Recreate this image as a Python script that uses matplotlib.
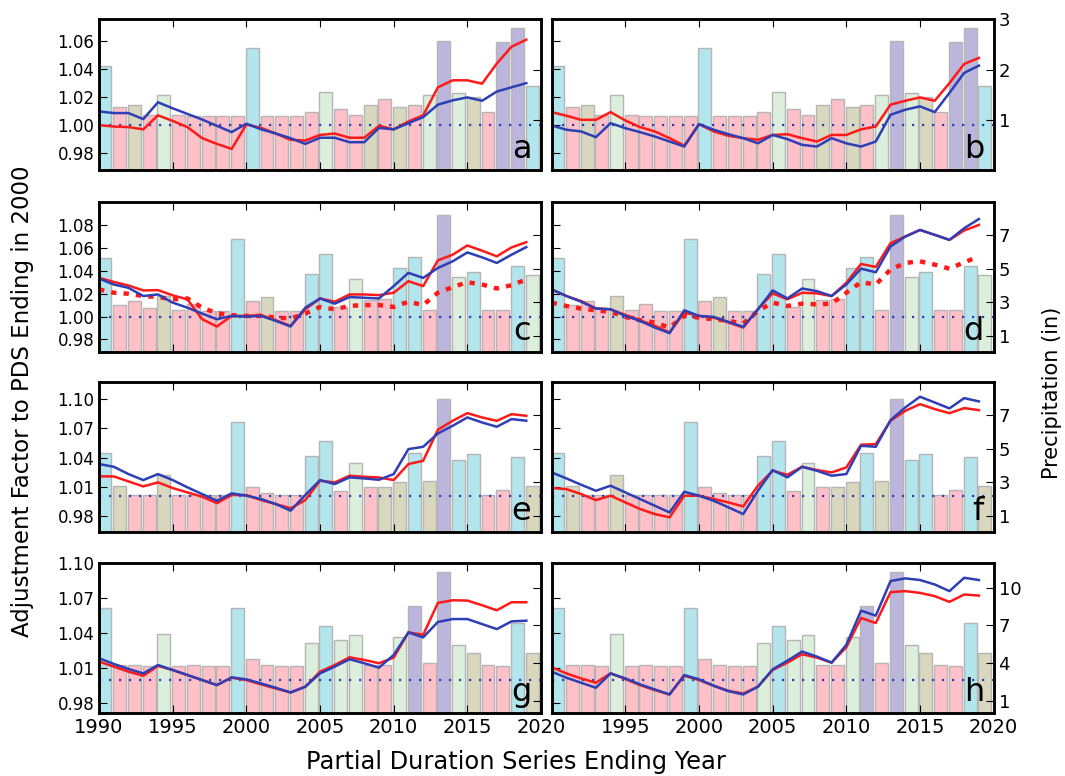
import numpy as np
import matplotlib.pyplot as plt

years = list(range(1990, 2020))

# bar colour codes: c=cyan, p=pink, t=tan, g=green, v=violet
bar_colors = {'c': '#b3e5ec', 'p': '#ffc0c8', 't': '#d9d8be', 'g': '#dcefdc', 'v': '#bcb5dc'}

# precipitation (in), one series per row
precip_r1 = [2.08, 1.25, 1.30, 1.10, 1.50, 1.10, 1.07, 1.07, 1.07, 1.07, 2.43, 1.07, 1.07, 1.07, 1.15,
             1.56, 1.22, 1.10, 1.30, 1.42, 1.25, 1.30, 1.50, 2.57, 1.53, 1.45, 1.15, 2.55, 2.83, 1.68]
cats_r1 = "cptpgpppppcppppgpptptpgvgtpvvc"
precip_r2 = [5.64, 2.81, 3.07, 2.63, 3.37, 2.53, 2.87, 2.48, 2.48, 6.77, 3.07, 3.33, 2.48, 2.48, 4.71,
             5.90, 2.71, 4.36, 3.10, 3.17, 5.05, 5.72, 2.55, 8.20, 4.50, 4.80, 2.55, 2.55, 5.13, 4.60]
cats_r2 = "cppptppppcptppccpgppccpvgcppcg"
precip_r3 = [4.77, 2.78, 2.25, 2.25, 3.42, 2.25, 2.25, 2.25, 2.25, 6.60, 2.72, 2.35, 2.25, 2.25, 4.59,
             5.47, 2.45, 4.17, 2.72, 2.72, 2.98, 4.77, 3.04, 7.95, 4.33, 4.67, 2.25, 2.52, 4.51, 2.78]
cats_r3 = "ctpptppppcppppccpgpttctvccppct"
precip_r4 = [8.39, 3.87, 3.87, 3.77, 6.29, 3.77, 3.87, 3.77, 3.77, 8.39, 4.35, 3.87, 3.77, 3.77, 5.62,
             6.93, 5.86, 6.21, 3.87, 3.87, 6.08, 8.52, 4.00, 11.26, 5.41, 4.83, 3.87, 3.77, 7.18, 4.83]
cats_r4 = "cpppgppppcppppgcggppgvpvgtppct"

# adjustment factors, red / blue lines per panel
red_a = [1.000, 0.999, 0.9986, 0.997, 1.007, 1.003, 0.9986, 0.9907, 0.9866, 0.983, 1.0005, 0.998, 0.994, 0.9895, 0.989,
         0.993, 0.994, 0.991, 0.991, 0.9995, 0.997, 1.0026, 1.007, 1.027, 1.032, 1.032, 1.0296, 1.044, 1.056, 1.061]
blue_a = [1.0098, 1.0086, 1.0086, 1.0043, 1.0163, 1.012, 1.008, 1.004, 0.9995, 0.995, 1.001, 0.997, 0.994, 0.9907, 0.9866,
          0.991, 0.991, 0.9878, 0.9878, 0.998, 0.997, 1.0014, 1.0057, 1.0146, 1.0177, 1.0198, 1.0174, 1.024, 1.027, 1.030]
red_b = [1.0093, 1.0067, 1.0038, 1.0038, 1.0093, 1.0033, 0.9986, 0.9955, 0.9907, 0.9854, 1.0007, 0.9955, 0.9924, 0.9907, 0.9895,
         0.993, 0.9935, 0.9907, 0.9883, 0.993, 0.993, 0.997, 0.999, 1.0146, 1.0174, 1.0198, 1.0174, 1.030, 1.0437, 1.048]
blue_b = [0.9998, 0.9967, 0.9955, 0.9914, 1.0014, 0.9978, 0.995, 0.9919, 0.9883, 0.9847, 1.0007, 0.9967, 0.9935, 0.9907, 0.987,
          0.993, 0.990, 0.9859, 0.9847, 0.9907, 0.987, 0.9847, 0.9883, 1.0074, 1.011, 1.0134, 1.0093, 1.023, 1.0373, 1.0425]
red_c = [1.0339, 1.0304, 1.0272, 1.0229, 1.0232, 1.0186, 1.0151, 0.9977, 0.9913, 1.0006, 1.0006, 1.0014, 0.9968, 0.9919, 1.0064,
         1.0159, 1.013, 1.0194, 1.0194, 1.0188, 1.0209, 1.031, 1.0267, 1.0493, 1.0542, 1.0623, 1.0577, 1.0528, 1.0606, 1.0652]
blue_c = [1.0333, 1.0281, 1.0252, 1.018, 1.0194, 1.0122, 1.0078, 1.0026, 0.9977, 1.0006, 1.000, 1.0006, 0.9962, 0.9913, 1.0078,
          1.0159, 1.0113, 1.0171, 1.0165, 1.0159, 1.0267, 1.0383, 1.0339, 1.0426, 1.0484, 1.0562, 1.0519, 1.047, 1.0542, 1.0609]
dot_c = [1.0238, 1.0209, 1.020, 1.018, 1.0171, 1.0151, 1.0159, 1.0078, 1.0029, 1.0012, 1.0006, 1.0006, 0.9991, 0.9983, 1.0026,
         1.0084, 1.0064, 1.0093, 1.0101, 1.0101, 1.0084, 1.013, 1.0101, 1.0209, 1.0258, 1.0301, 1.0281, 1.0246, 1.0275, 1.0325]
red_d = [1.0238, 1.018, 1.0136, 1.0072, 1.0064, 1.0014, 0.9968, 0.9919, 0.9861, 1.0035, 1.0006, 0.9991, 0.9948, 0.9904, 1.0064,
         1.0203, 1.0151, 1.0209, 1.0203, 1.018, 1.0296, 1.0461, 1.0435, 1.0643, 1.0701, 1.0759, 1.0716, 1.0672, 1.0754, 1.0803]
blue_d = [1.0238, 1.018, 1.013, 1.007, 1.0064, 1.0006, 0.9962, 0.9904, 0.9855, 1.0055, 1.0006, 0.9997, 0.9954, 0.991, 1.0064,
          1.0229, 1.0159, 1.0246, 1.0223, 1.018, 1.0281, 1.042, 1.0388, 1.0614, 1.0701, 1.0759, 1.0716, 1.0672, 1.0774, 1.0855]
dot_d = [1.0122, 1.0093, 1.007, 1.0055, 1.0041, 0.9997, 0.9968, 0.9948, 0.9904, 1.0006, 0.9991, 0.9977, 0.9962, 0.9939, 1.0049,
         1.0122, 1.0093, 1.0113, 1.0107, 1.0113, 1.0209, 1.0301, 1.0281, 1.0412, 1.047, 1.0484, 1.0455, 1.042, 1.0475, 1.0528]
red_e = [1.0206, 1.0206, 1.0154, 1.0103, 1.0144, 1.0086, 1.0041, 0.9997, 0.9931, 1.0014, 1.0014, 0.9962, 0.9921, 0.9877, 0.9962,
         1.0161, 1.0144, 1.0213, 1.0202, 1.0195, 1.0168, 1.0333, 1.0367, 1.0686, 1.0778, 1.0857, 1.0813, 1.0778, 1.0847, 1.083]
blue_e = [1.0333, 1.0305, 1.023, 1.0168, 1.023, 1.0168, 1.0093, 1.0024, 0.9955, 1.0031, 1.0007, 0.9973, 0.9921, 0.9853, 1.0014,
          1.0168, 1.0127, 1.0196, 1.0185, 1.0171, 1.023, 1.0487, 1.0511, 1.0648, 1.0727, 1.0813, 1.0761, 1.0717, 1.0796, 1.0779]
red_f = [1.0086, 1.0075, 1.0024, 0.9962, 1.0007, 0.9938, 0.987, 0.9818, 0.9784, 1.0007, 1.0007, 0.9973, 0.9938, 0.9897, 1.011,
         1.0264, 1.0223, 1.0305, 1.0271, 1.0247, 1.0298, 1.0532, 1.0538, 1.0779, 1.0881, 1.095, 1.0899, 1.0857, 1.0909, 1.0888]
blue_f = [1.0247, 1.0185, 1.012, 1.0058, 1.011, 1.0041, 0.9973, 0.9904, 0.9835, 1.0048, 1.0007, 0.9955, 0.9887, 0.9818, 1.0058,
          1.0271, 1.0196, 1.0305, 1.0264, 1.0213, 1.023, 1.0521, 1.0511, 1.0785, 1.0916, 1.1026, 1.0967, 1.0906, 1.1012, 1.0978]
red_g = [1.0158, 1.0115, 1.0072, 1.0037, 1.0121, 1.0086, 1.0043, 1.000, 0.9957, 1.002, 1.000, 0.9963, 0.9928, 0.9894, 0.9943,
         1.0072, 1.0129, 1.0195, 1.0172, 1.0144, 1.0192, 1.0408, 1.0387, 1.066, 1.0683, 1.068, 1.064, 1.0597, 1.0666, 1.0666]
blue_g = [1.0187, 1.0138, 1.0095, 1.0057, 1.0129, 1.0086, 1.0043, 1.000, 0.9957, 1.0023, 1.0006, 0.9971, 0.9934, 0.9894, 0.9943,
          1.0057, 1.0115, 1.0178, 1.0144, 1.0106, 1.0215, 1.0408, 1.0365, 1.0497, 1.0522, 1.0522, 1.0479, 1.0436, 1.0502, 1.0508]
red_h = [1.0109, 1.0057, 1.0014, 0.9977, 1.0057, 1.0009, 0.9957, 0.9914, 0.9877, 1.0037, 1.000, 0.9951, 0.9908, 0.9885, 0.9943,
         1.0086, 1.0149, 1.0221, 1.0192, 1.0149, 1.0281, 1.0531, 1.0488, 1.0752, 1.0761, 1.0746, 1.0718, 1.0669, 1.0732, 1.0723]
blue_h = [1.0072, 1.002, 0.9977, 0.9934, 1.0057, 1.0014, 0.9963, 0.992, 0.9877, 1.0043, 1.0006, 0.9951, 0.9905, 0.9877, 0.9943,
          1.0092, 1.0166, 1.0244, 1.0201, 1.0149, 1.0301, 1.0594, 1.0551, 1.0847, 1.087, 1.0856, 1.0818, 1.0761, 1.0875, 1.0856]

rows = [
    dict(precip=precip_r1, cats=cats_r1, ylim=(0.968, 1.0755), yticks=[0.98, 1.00, 1.02, 1.04, 1.06],
         rlim=(0, 3), rticks=[1, 2, 3], panels=[('a', red_a, blue_a, None), ('b', red_b, blue_b, None)]),
    dict(precip=precip_r2, cats=cats_r2, ylim=(0.9687, 1.1006), yticks=[0.98, 1.00, 1.02, 1.04, 1.06, 1.08],
         rlim=(0, 9), rticks=[1, 3, 5, 7], panels=[('c', red_c, blue_c, dot_c), ('d', red_d, blue_d, dot_d)]),
    dict(precip=precip_r3, cats=cats_r3, ylim=(0.963, 1.118), yticks=[0.98, 1.01, 1.04, 1.07, 1.10],
         rlim=(0, 9), rticks=[1, 3, 5, 7], panels=[('e', red_e, blue_e, None), ('f', red_f, blue_f, None)]),
    dict(precip=precip_r4, cats=cats_r4, ylim=(0.9717, 1.1005), yticks=[0.98, 1.01, 1.04, 1.07, 1.10],
         rlim=(0, 12), rticks=[1, 4, 7, 10], panels=[('g', red_g, blue_g, None), ('h', red_h, blue_h, None)]),
]

RED = '#ff1a1a'
BLUE = '#2e3fb5'

fig = plt.figure(figsize=(10.65, 7.76), dpi=100)
lefts = [0.093, 0.518]
bottoms = [0.781, 0.546, 0.314, 0.081]
w, h = 0.415, 0.194

for i, row in enumerate(rows):
    for j, (letter, red, blue, dot) in enumerate(row['panels']):
        ax = fig.add_axes([lefts[j], bottoms[i], w, h])
        axr = ax.twinx()
        ax.set_zorder(axr.get_zorder() + 1)
        ax.patch.set_visible(False)

        xs = [y + 0.4 for y in years]
        axr.bar(xs, row['precip'], width=0.88, color=[bar_colors[k] for k in row['cats']],
                edgecolor='#b5b5b5', linewidth=1.0)
        axr.set_ylim(*row['rlim'])
        axr.set_yticks(row['rticks'])
        axr.tick_params(direction='in', length=6, labelsize=13, labelright=(j == 1))

        ax.axhline(1.0, color=BLUE, linestyle=(0, (1, 3.5)), linewidth=1.6)
        if dot is not None:
            ax.plot(years, dot, color=RED, linestyle=(0, (1.2, 1.6)), linewidth=3.2)
        ax.plot(years, red, color=RED, linewidth=1.8)
        ax.plot(years, blue, color=BLUE, linewidth=1.8)

        ax.set_xlim(1990, 2020)
        ax.set_ylim(*row['ylim'])
        ax.set_yticks(row['yticks'])
        ax.set_yticklabels(['%.2f' % t for t in row['yticks']])
        ax.set_xticks([1990, 1995, 2000, 2005, 2010, 2015, 2020])
        ax.tick_params(direction='in', length=6, top=True, labelsize=12,
                       labelleft=(j == 0), labelbottom=(i == 3))
        ax.tick_params(axis='x', labelsize=14)
        if i == 3 and j == 1:
            labels = ['', '1995', '2000', '2005', '2010', '2015', '2020']
            ax.set_xticklabels(labels)
        for a in (ax, axr):
            for s in a.spines.values():
                s.set_linewidth(1.8)
        ax.text(0.978, 0.035, letter, transform=ax.transAxes, ha='right', va='bottom',
                fontsize=23)

fig.text(0.021, 0.483, 'Adjustment Factor to PDS Ending in 2000', rotation=90,
         ha='center', va='center', fontsize=16.5)
fig.text(0.988, 0.494, 'Precipitation (in)', rotation=90, ha='center', va='center', fontsize=15)
fig.text(0.484, 0.018, 'Partial Duration Series Ending Year', ha='center', va='center', fontsize=17.4)

fig.savefig('out.png', dpi=100)
